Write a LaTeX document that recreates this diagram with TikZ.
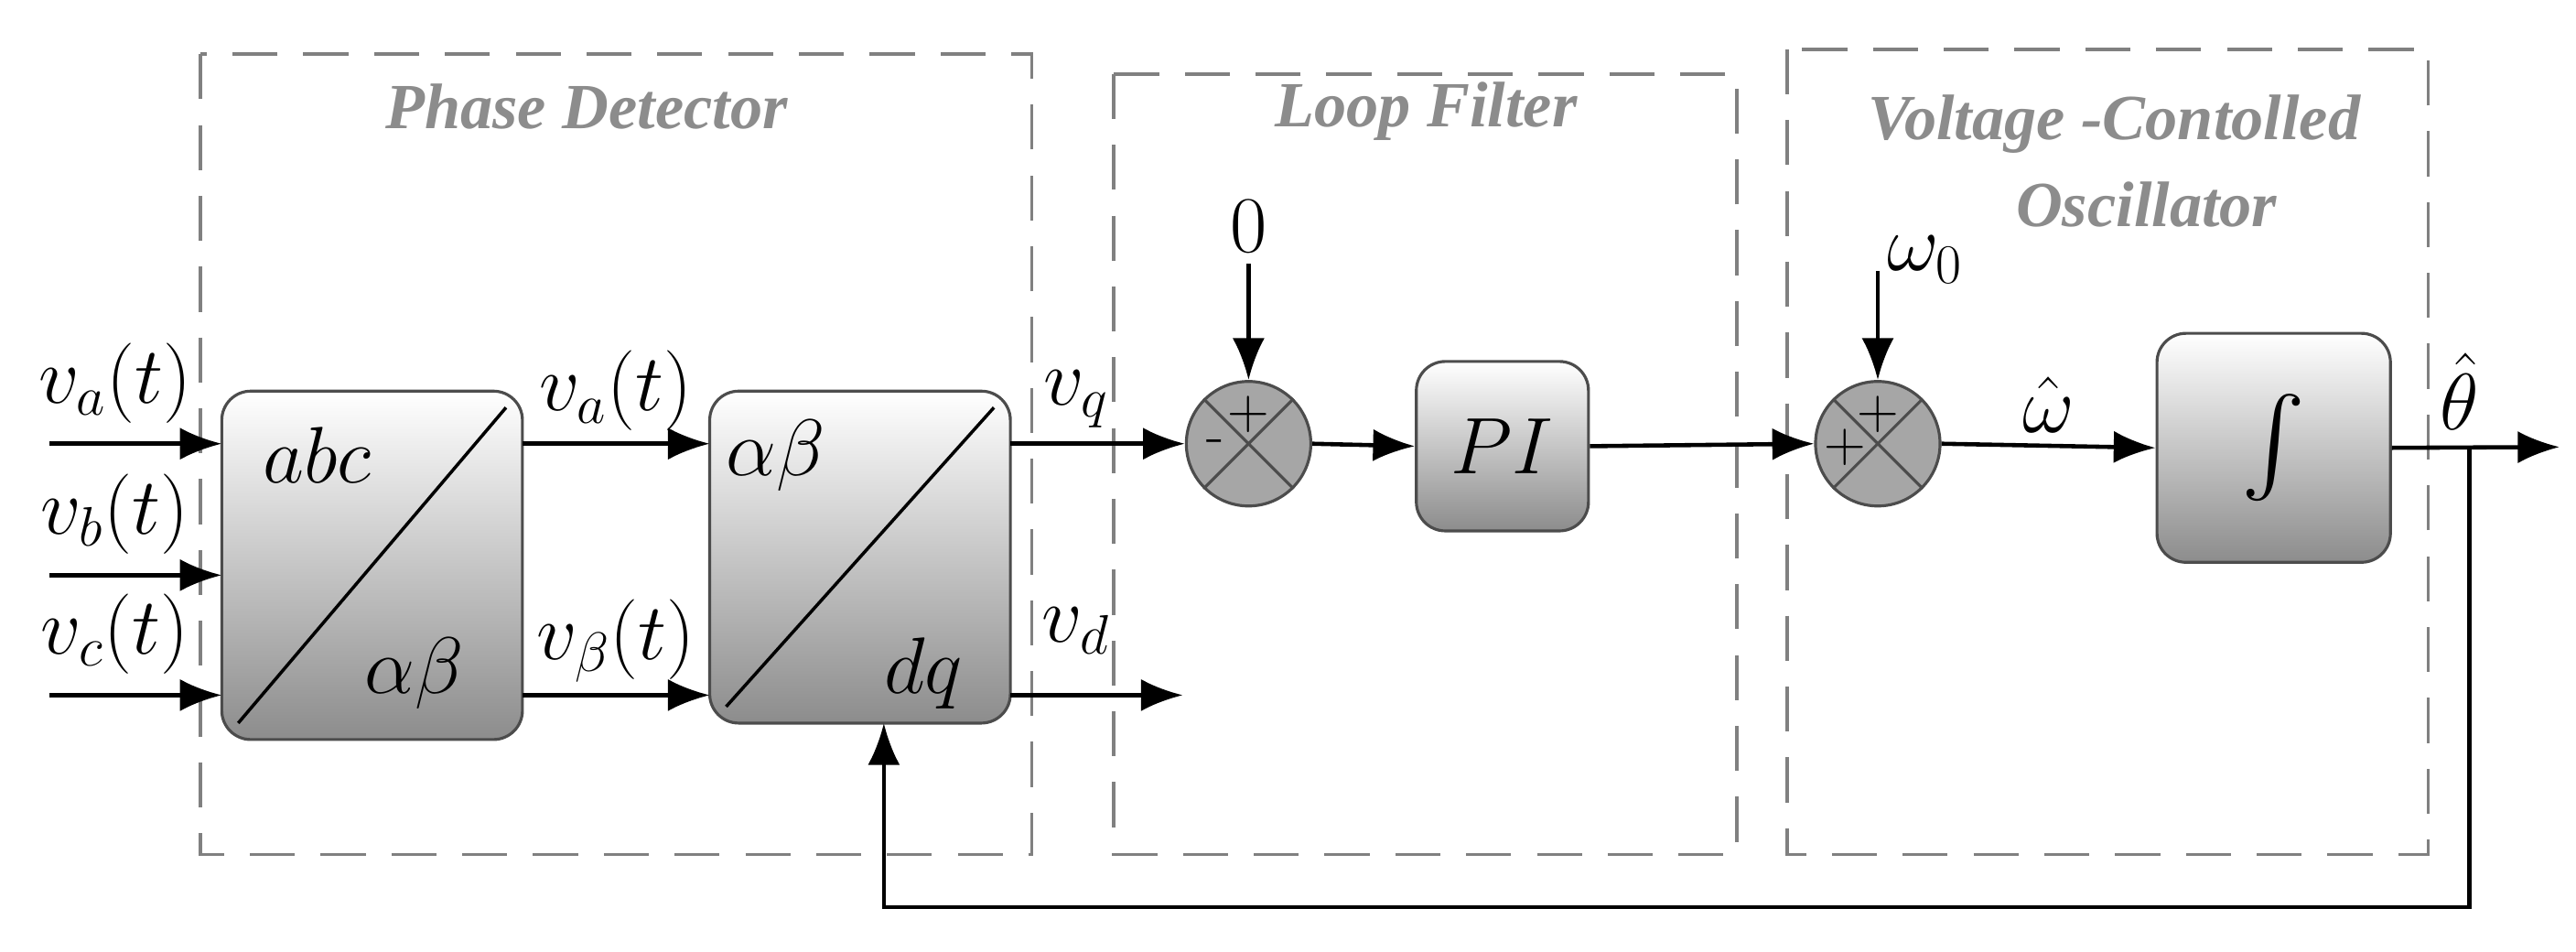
\documentclass[tikz,border=0pt]{standalone}
\usepackage{amsmath}
\usepackage{amssymb}
\usepackage{fontspec}
\newfontfamily\ttlfont{Liberation Serif}
\usetikzlibrary{calc,arrows.meta}

\tikzset{
  blk/.style={draw=black!70, rounded corners=9pt, top color=white, bottom color=black!45, line width=0.9pt},
  sumc/.style={circle, draw=black!70, fill=black!35, minimum size=1.36cm, inner sep=0pt, line width=0.9pt},
  grp/.style={draw=black!50, dashed, dash pattern=on 14pt off 8pt, line width=1.1pt},
  ttl/.style={text=black!45, font=\fontsize{20}{23}\ttlfont\bfseries\itshape},
  sig/.style={-{Latex[length=13pt,width=10pt]}, line width=1.3pt},
  lbl/.style={font=\fontsize{23}{26}\selectfont}
}

\begin{document}
\begin{tikzpicture}[x=0.01795cm, y=-0.01795cm]
                        \useasboundingbox (0,0) rectangle (1568,579);
                        % dashed groups
                        \draw[grp] (122,33) rectangle (628,520);
                        \draw[grp] (678,45) rectangle (1057,520);
                        \draw[grp] (1088,30) rectangle (1478,520);
                        \node[ttl] (tpd) at (357,65) {Phase Detector};
                        \node[ttl] (tlf) at (868,68) {Loop Filter};
                        \node[ttl, align=center] (tvco) at (1287,98) {Voltage -Contolled\\[4pt]\hspace*{1em}Oscillator};
                        % transform blocks
                        \draw[blk] (135,238) rectangle (318,450);
                        \draw[line width=1pt] (145,440) -- (308,248);
                        \node[lbl] (abc) at (193,277) {$abc$};
                        \node[lbl] (ab1) at (252,410) {$\alpha\beta$};
                        \draw[blk] (432,238) rectangle (615,440);
                        \draw[line width=1pt] (442,430) -- (605,248);
                        \node[lbl] (ab2) at (472,277) {$\alpha\beta$};
                        \node[lbl] (dq) at (562,410) {$dq$};
                        % sums, PI, integrator
                        \node[sumc] (s1) at (760,270) {};
                        \draw[black!70, line width=0.9pt] (s1.north west) -- (s1.south east) (s1.north east) -- (s1.south west);
                        \node[font=\fontsize{18}{20}\selectfont] at ($(s1)+(0,-18)$) {+};
                        \node[font=\fontsize{18}{20}\selectfont] at ($(s1)+(-20,2)$) {-};
                        \node[sumc] (s2) at (1143,270) {};
                        \draw[black!70, line width=0.9pt] (s2.north west) -- (s2.south east) (s2.north east) -- (s2.south west);
                        \node[font=\fontsize{18}{20}\selectfont] at ($(s2)+(0,-18)$) {+};
                        \node[font=\fontsize{18}{20}\selectfont] at ($(s2)+(-20,2)$) {+};
                        \node[blk, minimum width=1.88cm, minimum height=1.85cm, lbl] (pi) at (914.5,271.5) {$PI$};
                        \node[blk, minimum width=2.55cm, minimum height=2.5cm, font=\fontsize{30}{32}\selectfont] (int) at (1384,272.5) {$\int$};
                        % inputs
                        \foreach \y/\s [count=\i] in {270/a,350/b,423/c}
                        {
                            \coordinate (in\i) at (30,\y);
                            \coordinate (ab\i) at (135,\y);
                            \draw[sig] (in\i) -- (ab\i);
                            \node[lbl] at (70,\y-37) {$v_\s(t)$};
                        }
                        \coordinate (m1a) at (318,270); \coordinate (m1b) at (432,270);
                        \coordinate (m2a) at (318,423); \coordinate (m2b) at (432,423);
                        \draw[sig] (m1a) -- (m1b) node[lbl, midway, above] {$v_a(t)$};
                        \draw[sig] (m2a) -- (m2b) node[lbl, midway, above] {$v_\beta(t)$};
                        \coordinate (q0) at (615,270);
                        \coordinate (d0) at (615,423); \coordinate (d1) at (720,423);
                        \draw[sig] (q0) -- (s1.west);
                        \node[lbl] at (655,243) {$v_q$};
                        \draw[sig] (d0) -- (d1);
                        \node[lbl] at (655,384) {$v_d$};
                        \node[lbl] (zero) at (760,138) {$0$};
                        \draw[sig] (zero.south) -- (s1.north);
                        \node[lbl] (w0) at (1172,158) {$\omega_0$};
                        \coordinate (w0a) at (1143,165);
                        \draw[sig] (w0a) -- (s2.north);
                        \draw[sig] (s1.east) -- (pi.west);
                        \draw[sig] (pi.east) -- (s2.west);
                        \draw[sig] (s2.east) -- (int.west) node[lbl, midway, above] {$\hat\omega$};
                        \coordinate (out) at (1558,272);
                        \draw[sig] (int.east) -- (out);
                        \node[lbl] at (1497,238) {$\hat\theta$};
                        % feedback
                        \coordinate (fb) at (1503,272);
                        \coordinate (dqb) at (538,440);
                        \draw[sig] (fb) -- (1503,552) -- (538,552) -- (dqb);
                    \end{tikzpicture}
\end{document}
